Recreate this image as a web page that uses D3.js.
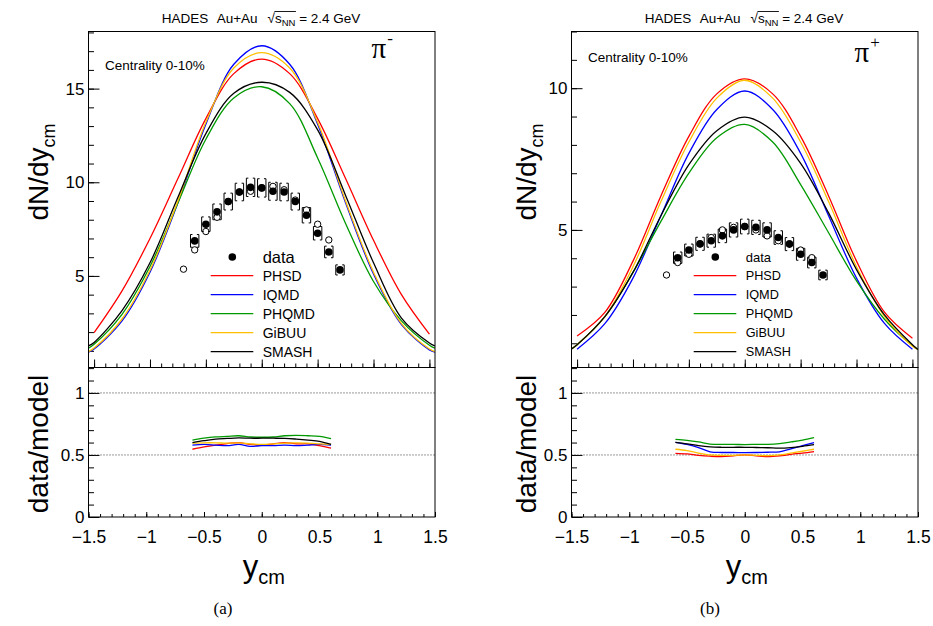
<!DOCTYPE html>
<html><head><meta charset="utf-8">
<script src="https://cdn.jsdelivr.net/npm/d3@7"></script>
<style>
body{margin:0;background:#fff}
svg{display:block}
text{font-family:"Liberation Sans",Arial,sans-serif;fill:#000}
</style>
</head><body>
<svg id="chart" width="933" height="626"></svg>
<script>
// ---------------- data ----------------
const models = ["PHSD", "IQMD", "PHQMD", "GiBUU", "SMASH"];
const modelColors = ["#ff0000", "#0000ff", "#009a00", "#ffc000", "#000000"];

// model curves dN/dy vs y_cm
const modelX = [-1.55, -1.5, -1.25, -1, -0.75, -0.5, -0.25, 0, 0.25, 0.5, 0.75, 1, 1.25, 1.5, 1.55];
const piMinusPHSD  = [null, 1.97, 4.2, 7.0, 10.2, 13.4, 15.8, 16.58, 15.8, 13.4, 10.2, 6.9, 4.0, 1.89, null];
const piMinusIQMD  = [0.93, 1.1, 2.6, 5.2, 8.9, 13.1, 16.3, 17.29, 16.3, 13.1, 8.9, 5.1, 2.4, 1.05, 0.93];
const piMinusPHQMD = [1.14, 1.35, 2.95, 5.5, 8.9, 12.3, 14.5, 15.1, 14.2, 11.3, 7.8, 4.7, 2.6, 1.3, 1.14];
const piMinusGiBUU = [0.96, 1.15, 2.7, 5.3, 9.0, 13.2, 16.1, 16.92, 16.1, 13.2, 9.0, 5.2, 2.45, 1.1, 0.96];
const piMinusSMASH = [1.26, 1.45, 3.15, 5.7, 9.2, 12.6, 14.75, 15.34, 14.8, 12.8, 9.3, 5.7, 2.75, 1.42, 1.26];

const piPlusPHSD  = [null, 1.26, 2.1, 3.9, 6.2, 8.3, 9.8, 10.33, 9.8, 8.3, 6.2, 3.9, 2.1, 1.18, null];
const piPlusIQMD  = [null, 0.79, 1.7, 3.3, 5.5, 7.7, 9.25, 9.9, 9.25, 7.7, 5.5, 3.3, 1.7, 0.79, null];
const piPlusPHQMD = [0.80, 0.95, 1.95, 3.5, 5.3, 7.0, 8.25, 8.72, 8.1, 6.6, 4.9, 3.2, 1.85, 0.92, 0.78];
const piPlusGiBUU = [0.80, 0.95, 1.95, 3.7, 6.0, 8.1, 9.65, 10.28, 9.65, 8.1, 6.0, 3.7, 1.95, 0.9, 0.78];
const piPlusSMASH = [0.80, 0.95, 1.95, 3.5, 5.5, 7.3, 8.5, 8.98, 8.5, 7.35, 5.6, 3.6, 2.0, 0.95, 0.78];

// measured data (filled) and reflected data (open)
const dataX = [-0.6, -0.5, -0.4, -0.3, -0.2, -0.1, 0, 0.1, 0.2, 0.3, 0.4, 0.5, 0.6, 0.7];
const piMinusData = [6.87, 7.76, 8.42, 8.97, 9.48, 9.73, 9.70, 9.52, 9.48, 8.97, 8.24, 7.28, 6.28, 5.32];
const piMinusSys  = [0.34, 0.39, 0.42, 0.45, 0.47, 0.49, 0.49, 0.48, 0.47, 0.45, 0.41, 0.36, 0.31, 0.27];
const piPlusData  = [4.02, 4.29, 4.51, 4.62, 4.79, 5.0, 5.12, 5.09, 5.0, 4.73, 4.50, 4.14, 3.85, 3.41];
const piPlusSys   = [0.20, 0.21, 0.23, 0.23, 0.24, 0.25, 0.26, 0.25, 0.25, 0.24, 0.23, 0.21, 0.19, 0.17];

const reflX = [-0.7, -0.6, -0.5, -0.4, -0.3, -0.2, -0.1, 0, 0.1, 0.2, 0.3, 0.4, 0.5, 0.6];
const piMinusRefl = [5.36, 6.39, 7.37, 8.13, 8.97, 9.48, 9.52, 9.70, 9.78, 9.6, 9.05, 8.52, 7.76, 6.92];
const piPlusRefl  = [3.41, 3.85, 4.14, 4.50, 4.73, 5.0, 5.09, 5.12, 5.0, 4.79, 4.62, 4.51, 4.29, 4.02];

// data/model ratios
const ratioX = [-0.6, -0.5, -0.4, -0.3, -0.2, -0.1, 0, 0.1, 0.2, 0.3, 0.4, 0.5, 0.6];
const piMinusRatioPHSD  = [0.546, 0.565, 0.58, 0.592, 0.60, 0.585, 0.58, 0.59, 0.60, 0.59, 0.59, 0.575, 0.555];
const piMinusRatioIQMD  = [0.58, 0.585, 0.58, 0.575, 0.585, 0.57, 0.575, 0.575, 0.58, 0.575, 0.58, 0.585, 0.58];
const piMinusRatioPHQMD = [0.62, 0.635, 0.645, 0.65, 0.655, 0.645, 0.643, 0.645, 0.655, 0.658, 0.655, 0.65, 0.632];
const piMinusRatioGiBUU = [0.595, 0.598, 0.598, 0.595, 0.597, 0.59, 0.585, 0.59, 0.595, 0.597, 0.595, 0.59, 0.585];
const piMinusRatioSMASH = [0.60, 0.615, 0.628, 0.633, 0.637, 0.635, 0.635, 0.635, 0.634, 0.628, 0.62, 0.61, 0.585];

const piPlusRatioPHSD  = [0.513, 0.508, 0.497, 0.49, 0.487, 0.493, 0.50, 0.493, 0.487, 0.493, 0.505, 0.515, 0.527];
const piPlusRatioIQMD  = [0.602, 0.585, 0.56, 0.525, 0.52, 0.52, 0.519, 0.52, 0.522, 0.525, 0.55, 0.575, 0.60];
const piPlusRatioPHQMD = [0.626, 0.618, 0.605, 0.588, 0.585, 0.585, 0.584, 0.585, 0.586, 0.592, 0.605, 0.62, 0.64];
const piPlusRatioGiBUU = [0.546, 0.535, 0.515, 0.50, 0.497, 0.497, 0.50, 0.497, 0.495, 0.50, 0.515, 0.53, 0.546];
const piPlusRatioSMASH = [0.602, 0.59, 0.575, 0.565, 0.562, 0.562, 0.562, 0.56, 0.558, 0.555, 0.56, 0.57, 0.583];

// axis ticks
const xTickLabels = [-1.5, -1, -0.5, 0, 0.5, 1, 1.5];
const ratioTicks = [0, 0.5, 1];
const ratioRefLines = [1, 0.5];

// ---------------- layout ----------------
const svg = d3.select("#chart");
const W = 346.5, upTop = 31.5, split = 367.5, lowBot = 517;

const panels = [
  { left: 88.5, yDomain: [0.11, 18.05], yMajor: [5, 10, 15], yMinorMax: 18,
    curves: [piMinusPHSD, piMinusIQMD, piMinusPHQMD, piMinusGiBUU, piMinusSMASH],
    ratios: [piMinusRatioPHSD, piMinusRatioIQMD, piMinusRatioPHQMD, piMinusRatioGiBUU, piMinusRatioSMASH],
    data: piMinusData, sys: piMinusSys, refl: piMinusRefl,
    particleSign: "-", centY: 70, piY: 58, legFont: 14, dataFont: 16.5, titleX: 38, tag: "(a)", tagX: 223 },
  { left: 571.5, yDomain: [0.146, 12.0], yMajor: [5, 10], yMinorMax: 12,
    curves: [piPlusPHSD, piPlusIQMD, piPlusPHQMD, piPlusGiBUU, piPlusSMASH],
    ratios: [piPlusRatioPHSD, piPlusRatioIQMD, piPlusRatioPHQMD, piPlusRatioGiBUU, piPlusRatioSMASH],
    data: piPlusData, sys: piPlusSys, refl: piPlusRefl,
    particleSign: "+", centY: 62, piY: 62, legFont: 12.7, dataFont: 13, titleX: 526, tag: "(b)", tagX: 710 }
];

const fmt = d3.format("~g");

function styleAxis(g, fontSize) {
  g.select(".domain").remove();
  g.selectAll("line").attr("stroke", "#000").attr("stroke-width", 1);
  g.selectAll("text").attr("font-family", "'Liberation Sans', Arial, sans-serif")
    .attr("font-size", fontSize).attr("fill", "#000");
  g.attr("font-family", null).attr("font-size", null);
}

panels.forEach(p => {
  const L = p.left;
  const xU = d3.scaleLinear().domain([-1.55, 1.55]).range([L, L + W]);
  const xL = d3.scaleLinear().domain([-1.5, 1.5]).range([L, L + W]);
  const yU = d3.scaleLinear().domain(p.yDomain).range([split, upTop]);
  const yL = d3.scaleLinear().domain([0, 1.205]).range([lowBot, split]);

  const minorX = d3.range(-15, 16).map(i => i / 10);

  // ---- upper panel axes ----
  const gUy = svg.append("g").attr("transform", `translate(${L},0)`);
  gUy.call(d3.axisLeft(yU).tickValues(d3.range(1, p.yMinorMax + 1)).tickSizeInner(-5.5).tickSizeOuter(0).tickFormat(""));
  styleAxis(gUy, 17);
  const gUy2 = svg.append("g").attr("transform", `translate(${L},0)`);
  gUy2.call(d3.axisLeft(yU).tickValues(p.yMajor).tickSizeInner(-11).tickSizeOuter(0).tickPadding(4).tickFormat(fmt));
  styleAxis(gUy2, 17);

  const gUx = svg.append("g").attr("transform", `translate(0,${split})`);
  gUx.call(d3.axisBottom(xU).tickValues(minorX).tickSizeInner(-4).tickSizeOuter(0).tickFormat(""));
  styleAxis(gUx, 17);
  const gUx2 = svg.append("g").attr("transform", `translate(0,${split})`);
  gUx2.call(d3.axisBottom(xU).tickValues(xTickLabels).tickSizeInner(-8).tickSizeOuter(0).tickFormat(""));
  styleAxis(gUx2, 17);

  // ---- lower panel axes ----
  const gLy = svg.append("g").attr("transform", `translate(${L},0)`);
  gLy.call(d3.axisLeft(yL).tickValues(d3.range(1, 13).map(i => i / 10)).tickSizeInner(-5.5).tickSizeOuter(0).tickFormat(""));
  styleAxis(gLy, 17);
  const gLy2 = svg.append("g").attr("transform", `translate(${L},0)`);
  gLy2.call(d3.axisLeft(yL).tickValues(ratioTicks).tickSizeInner(-11).tickSizeOuter(0).tickPadding(4).tickFormat(fmt));
  styleAxis(gLy2, 17);

  const gLx = svg.append("g").attr("transform", `translate(0,${lowBot})`);
  gLx.call(d3.axisBottom(xL).tickValues(minorX).tickSizeInner(-3).tickSizeOuter(0).tickFormat(""));
  styleAxis(gLx, 17);
  const gLx2 = svg.append("g").attr("transform", `translate(0,${lowBot})`);
  gLx2.call(d3.axisBottom(xL).tickValues(xTickLabels).tickSizeInner(-5).tickSizeOuter(0).tickPadding(14).tickFormat(fmt));
  styleAxis(gLx2, 17.5);

  // ---- reference dotted lines ----
  svg.append("g").selectAll("line").data(ratioRefLines).join("line")
    .attr("x1", L).attr("x2", L + W)
    .attr("y1", d => yL(d)).attr("y2", d => yL(d))
    .attr("stroke", "#333").attr("stroke-width", 1).attr("stroke-dasharray", "1,2");

  // ---- model curves (upper) ----
  const clipId = "clip" + L;
  svg.append("clipPath").attr("id", clipId).append("rect")
    .attr("x", L).attr("y", upTop).attr("width", W).attr("height", split - upTop);
  const line = d3.line().x(d => xU(d[0])).y(d => yU(d[1])).curve(d3.curveCatmullRom.alpha(0.5));
  const gCurves = svg.append("g").attr("clip-path", `url(#${clipId})`);
  p.curves.forEach((vals, i) => {
    const pts = modelX.map((x, j) => [x, vals[j]]).filter(d => d[1] != null);
    gCurves.append("path").datum(pts).attr("d", line)
      .attr("fill", "none").attr("stroke", modelColors[i]).attr("stroke-width", 1.3);
  });

  // ---- ratio curves (lower) ----
  const rline = d3.line().x(d => xL(d[0])).y(d => yL(d[1])).curve(d3.curveCatmullRom.alpha(0.5));
  p.ratios.forEach((vals, i) => {
    const pts = ratioX.map((x, j) => [x, vals[j]]);
    svg.append("path").datum(pts).attr("d", rline)
      .attr("fill", "none").attr("stroke", modelColors[i]).attr("stroke-width", 1.3);
  });

  // ---- data points ----
  svg.append("g").selectAll("circle").data(reflX.map((x, j) => [x, p.refl[j]])).join("circle")
    .attr("cx", d => xU(d[0])).attr("cy", d => yU(d[1])).attr("r", 3.2)
    .attr("fill", "none").attr("stroke", "#000").attr("stroke-width", 1);

  const pts = dataX.map((x, j) => [x, p.data[j], p.sys[j]]);
  const bw = 4.2, serif = 2;
  svg.append("g").selectAll("path").data(pts).join("path")
    .attr("d", d => {
      const cx = xU(d[0]), top = yU(d[1] + d[2]), bot = yU(d[1] - d[2]);
      return `M${cx - bw + serif},${top}H${cx - bw}V${bot}H${cx - bw + serif}` +
             `M${cx + bw - serif},${top}H${cx + bw}V${bot}H${cx + bw - serif}`;
    })
    .attr("fill", "none").attr("stroke", "#000").attr("stroke-width", 1);
  svg.append("g").selectAll("circle").data(pts).join("circle")
    .attr("cx", d => xU(d[0])).attr("cy", d => yU(d[1])).attr("r", 3.8).attr("fill", "#000");

  // ---- frames ----
  svg.append("rect").attr("x", L).attr("y", upTop).attr("width", W).attr("height", split - upTop)
    .attr("fill", "none").attr("stroke", "#000").attr("stroke-width", 1);
  svg.append("rect").attr("x", L).attr("y", split).attr("width", W).attr("height", lowBot - split)
    .attr("fill", "none").attr("stroke", "#000").attr("stroke-width", 1);

  // ---- legend ----
  const lg = svg.append("g").attr("transform", `translate(${L},0)`);
  lg.append("circle").attr("cx", 143.8).attr("cy", 257).attr("r", 3.8).attr("fill", "#000");
  lg.append("text").attr("x", 174.2).attr("y", 257).attr("dy", "0.36em")
    .attr("font-size", p.dataFont).text("data");
  models.forEach((m, i) => {
    const yy = 275.7 + i * 19;
    lg.append("line").attr("x1", 122.2).attr("x2", 164.8).attr("y1", yy).attr("y2", yy)
      .attr("stroke", modelColors[i]).attr("stroke-width", 1.3);
    lg.append("text").attr("x", 174.2).attr("y", yy).attr("dy", "0.36em")
      .attr("font-size", p.legFont).text(m);
  });

  // ---- texts ----
  svg.append("text").attr("x", L + 16.5).attr("y", p.centY).attr("font-size", 13.5).text("Centrality 0-10%");

  const pt = svg.append("text").attr("x", L + 283).attr("y", p.piY)
    .style("font-family", "'Liberation Serif', 'Times New Roman', serif").attr("font-size", 29);
  pt.append("tspan").text("π");
  pt.append("tspan").attr("font-size", 17).attr("dy", -14).attr("dx", 1).text(p.particleSign);

  // title
  const tt = svg.append("text").attr("x", L + 73.2).attr("y", 23).attr("font-size", 13.5);
  tt.append("tspan").text("HADES");
  tt.append("tspan").attr("x", L + 128.2).text("Au+Au");
  const sq = tt.append("tspan").attr("x", L + 179).text("√");
  tt.append("tspan").text("s");
  const nn = tt.append("tspan").attr("font-size", 9.5).attr("dy", 3).text("NN");
  tt.append("tspan").attr("dy", -3).text(" = 2.4 GeV");
  const sx = sq.node().getEndPositionOfChar(0).x;
  const ex = nn.node().getEndPositionOfChar(1).x;
  svg.append("line").attr("x1", sx - 0.5).attr("x2", ex + 0.5).attr("y1", 11.5).attr("y2", 11.5)
    .attr("stroke", "#000").attr("stroke-width", 0.9);

  // y axis titles
  const t1 = svg.append("text").attr("transform", `translate(${p.titleX},172) rotate(-90)`)
    .attr("text-anchor", "middle").attr("dy", "0.35em").attr("font-size", 28);
  t1.append("tspan").text("dN/dy");
  t1.append("tspan").attr("font-size", 18).attr("dy", 7).text("cm");
  svg.append("text").attr("transform", `translate(${p.titleX},444) rotate(-90)`)
    .attr("text-anchor", "middle").attr("dy", "0.35em").attr("font-size", 28).text("data/model");

  // x axis title
  const xt = svg.append("text").attr("x", xL(0) - 19).attr("y", 577).attr("font-size", 31);
  xt.append("tspan").text("y");
  xt.append("tspan").attr("font-size", 20).attr("dy", 7).text("cm");

  // sub-figure tag
  svg.append("text").attr("x", p.tagX).attr("y", 614).attr("text-anchor", "middle")
    .style("font-family", "'Liberation Serif', 'Times New Roman', serif").attr("font-size", 17).text(p.tag);
});
</script>
</body></html>
